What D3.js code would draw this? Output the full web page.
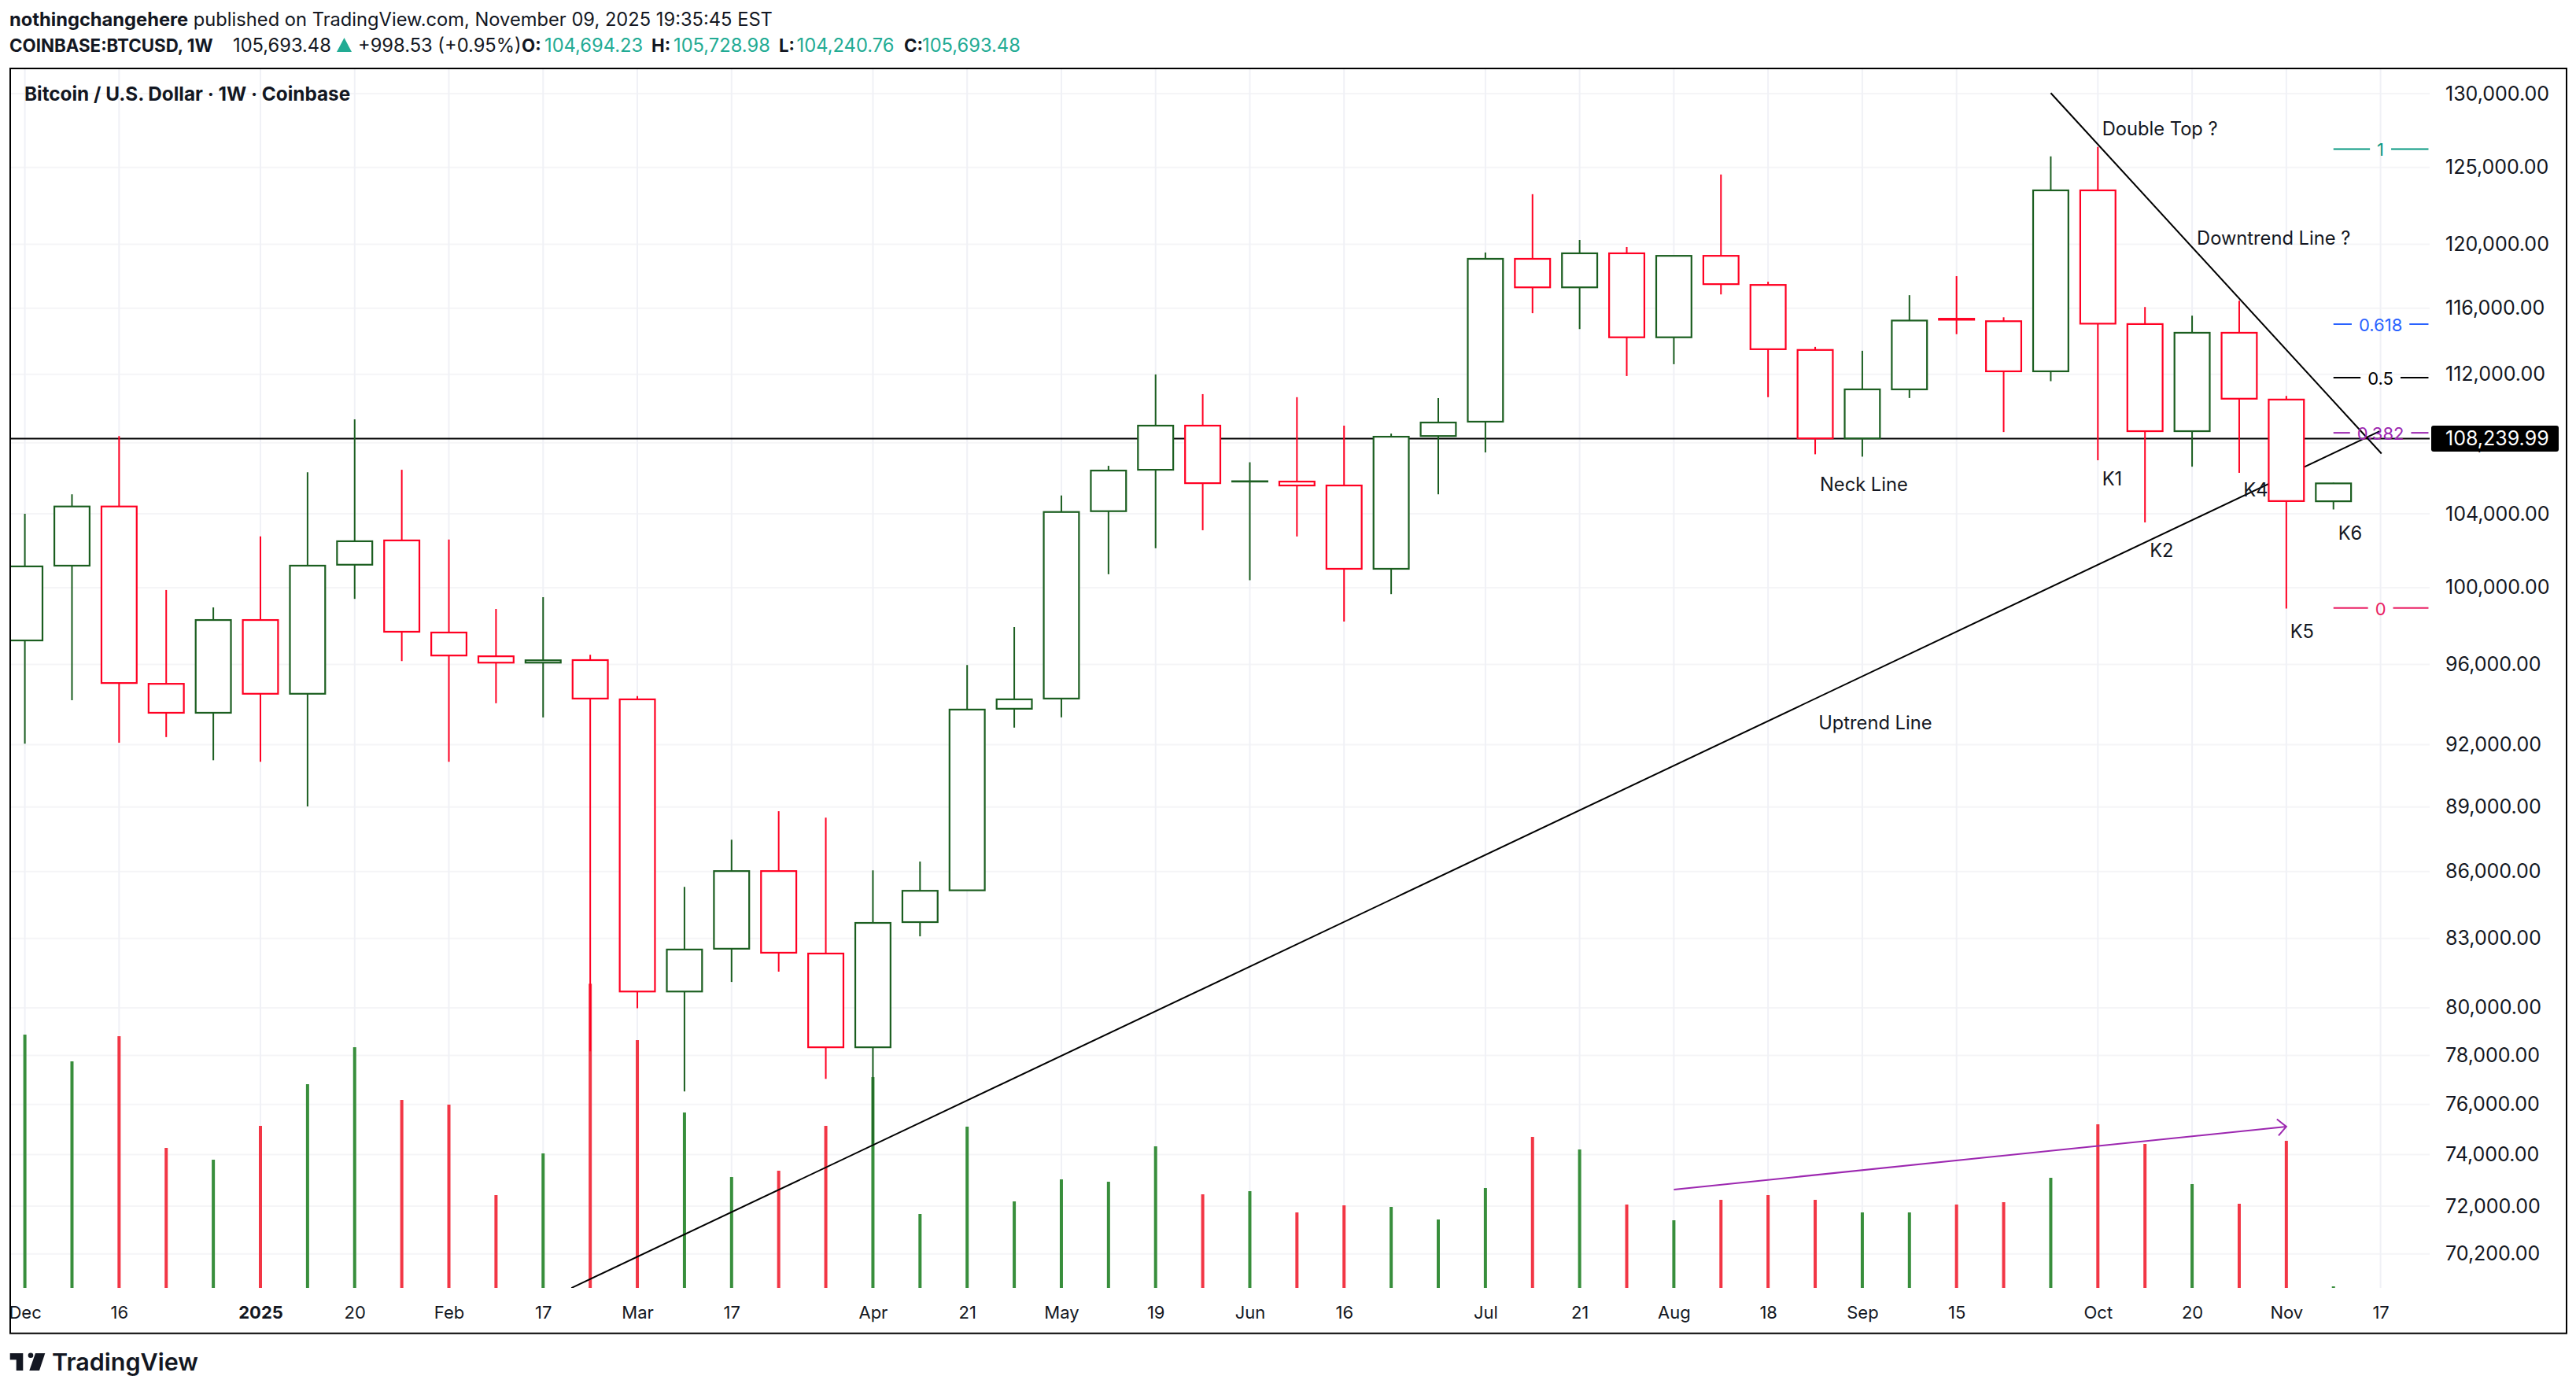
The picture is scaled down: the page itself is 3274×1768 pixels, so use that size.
<!DOCTYPE html>
<html>
<head>
<meta charset="utf-8">
<title>BTCUSD 1W</title>
<script src="https://cdn.jsdelivr.net/npm/d3@7"></script>
<style>
  html, body { margin: 0; padding: 0; background: #fff; }
  svg { display: block; }
  text { font-family: Inter, "Liberation Sans", sans-serif; fill: #131722; }
</style>
</head>
<body>
<svg id="chart" width="3274" height="1768"></svg>
<script>
// weekly candles, first week is 2 Dec 2024
var opens  = [97235,101175,104405,95020,93570,98295,94520,101225,102540,97645,96420,96095,96225,94240,80695,82550,86025,82340,78340,83725,85150,93770,94280,104145,106460,108985,105795,105795,105575,101005,108385,109215,119080,117290,119430,114220,119270,117440,113455,108250,111105,115350,115200,112175,123490,115025,108665,114495,110505,104694.23];
var highs  = [104005,105085,108385,99875,98955,102755,106325,109350,106460,102585,98875,99495,96500,94400,85310,87470,88805,88505,86060,86460,95975,97930,105015,106685,111990,110825,106885,110645,108985,108525,110595,119480,123240,120280,119830,119270,124535,117640,113640,113405,116805,117990,115440,125740,126375,116070,115540,116460,110715,105728.98];
var lows   = [92050,94200,92090,92370,91240,91170,89030,99405,96175,91170,94045,93340,78170,79985,76525,81105,81550,77040,74420,83095,85150,92835,93340,100715,102115,103095,100395,102755,98215,99655,105085,107445,115690,114720,111895,112600,116850,110645,107340,107205,110595,114410,108615,111585,106995,103525,106635,106285,98895,104240.76];
var closes = [101135,104405,95060,93570,98295,94520,101175,102495,97685,96460,96095,96215,94280,80695,82515,86025,82375,78340,83690,85130,93730,94240,104100,106415,108985,105705,105815,105575,101005,108345,109165,119080,117290,119430,114220,119270,117490,113500,108250,111105,115240,115290,112175,123490,115050,108665,114495,110555,104705,105693.48];

var volumes = [966,864,960,534,489,618,777,918,717,699,354,513,1160,945,669,423,447,618,804,282,615,330,414,405,540,357,369,288,315,309,261,381,576,528,318,258,336,354,336,288,288,318,327,420,624,549,396,321,561,6];

var priceTicks = [130000,125000,120000,116000,112000,108000,104000,100000,96000,92000,89000,86000,83000,80000,78000,76000,74000,72000,70200];
var timeTicks  = [0,2,5,7,9,11,13,15,18,20,22,24,26,28,31,33,35,37,39,41,44,46,48,50];
var timeLabels = ["Dec","16","2025","20","Feb","17","Mar","17","Apr","21","May","19","Jun","16","Jul","21","Aug","18","Sep","15","Oct","20","Nov","17"];

var lastPrice = 108239.99;
var fibLevels = ["1","0.618","0.5","0.382","0"];
var fibPrices = [126225,115020,111800,108570,98925];
var fibColors = ["#089981","#2962ff","#000000","#9c27b0","#e91e63"];

var noteTexts  = ["Double Top ?","Downtrend Line ?","K1","K2","K4","K5","K6","Neck Line","Uptrend Line"];
var noteIdx    = [44.09,46.1,44.09,45.1,47.09,48.08,49.1,38.1,38.07];
var notePrices = [127170,120000,105570,101650,104950,97340,102590,105250,92750];

// drawn lines, [from idx, from price, to idx, to price]
var downtrend = [43,130040,50.02,107380];
var uptrend   = [11.6,68940,49.98,108660];
var volArrow  = [35,72640,48,75110];

var svg = d3.select("#chart");
var x = d3.scaleLinear().domain([0,50]).range([31.6,3025.6]);
var y = d3.scaleLog().domain([130000,70200]).range([119,1593.7]);
var v = d3.scaleLinear().domain([0,1000]).range([1637,1303.7]);

var left = 13, right = 3090, top_ = 87, paneBottom = 1637, bottom = 1694.7;
var upCol = "#1b5e20", downCol = "#ff0022";
var volUp = "#388e3c", volDown = "#f23645";

var defs = svg.append("defs");
defs.append("clipPath").attr("id","pane").append("rect")
    .attr("x",left).attr("y",top_).attr("width",right-left).attr("height",paneBottom-top_);
defs.append("clipPath").attr("id","timeclip").append("rect")
    .attr("x",left).attr("y",paneBottom).attr("width",right-left).attr("height",bottom-paneBottom);
defs.append("marker").attr("id","head").attr("markerUnits","userSpaceOnUse")
    .attr("markerWidth",30).attr("markerHeight",30).attr("refX",20).attr("refY",12)
    .attr("orient","auto").attr("viewBox","0 0 30 24")
    .append("path").attr("d","M9,1.5 L20,12 L9,22.5").attr("fill","none")
    .attr("stroke","#9c27b0").attr("stroke-width",2);

// grid
var pane = svg.append("g").attr("clip-path","url(#pane)");
pane.append("g").selectAll("line").data(priceTicks).enter().append("line")
    .attr("x1",left).attr("x2",3088).attr("y1",d => y(d)).attr("y2",d => y(d))
    .attr("stroke","#f5f5f7").attr("stroke-width",2);
pane.append("g").selectAll("line").data(timeTicks).enter().append("line")
    .attr("x1",d => x(d)).attr("x2",d => x(d)).attr("y1",top_).attr("y2",paneBottom)
    .attr("stroke","#f0f1f6").attr("stroke-width",2);

// volume
pane.append("g").selectAll("rect").data(volumes).enter().append("rect")
    .attr("x",(d,i) => x(i)-2).attr("width",4)
    .attr("y",d => v(d)).attr("height",d => v(0)-v(d))
    .attr("fill",(d,i) => closes[i] >= opens[i] ? volUp : volDown);

// drawings sit under the candles
function drawLine(p, col) {
  return pane.append("line")
    .attr("x1",x(p[0])).attr("y1",y(p[1])).attr("x2",x(p[2])).attr("y2",y(p[3]))
    .attr("stroke",col).attr("stroke-width",2);
}
drawLine(uptrend,"#000");
drawLine(downtrend,"#000");
drawLine(volArrow,"#9c27b0").attr("marker-end","url(#head)");
pane.append("line").attr("x1",left).attr("x2",3088)
    .attr("y1",y(lastPrice)).attr("y2",y(lastPrice))
    .attr("stroke","#000").attr("stroke-width",2);

// fib levels, the line breaks around its label
fibLevels.forEach(function (lvl, i) {
  var g = pane.append("g");
  var py = y(fibPrices[i]);
  var t = g.append("text").attr("x",x(50)).attr("y",py).attr("dy","0.4em")
      .attr("text-anchor","middle").attr("font-size",22).style("fill",fibColors[i]).text(lvl);
  var half = t.node().getComputedTextLength()/2 + 9;
  [[x(49),x(50)-half],[x(50)+half,x(51)+1]].forEach(function (s) {
    g.append("line").attr("x1",s[0]).attr("x2",s[1]).attr("y1",py).attr("y2",py)
      .attr("stroke",fibColors[i]).attr("stroke-width",2);
  });
});

// candles
var candles = pane.append("g").selectAll("g").data(opens).enter().append("g")
    .attr("stroke",(d,i) => closes[i] >= opens[i] ? upCol : downCol);
candles.append("line")
    .attr("x1",(d,i) => x(i)).attr("x2",(d,i) => x(i))
    .attr("y1",(d,i) => y(highs[i])).attr("y2",(d,i) => y(lows[i]))
    .attr("stroke-width",2);
candles.append("rect")
    .attr("x",(d,i) => x(i)-22.4).attr("width",44.8)
    .attr("y",(d,i) => y(Math.max(opens[i],closes[i])))
    .attr("height",(d,i) => Math.abs(y(opens[i])-y(closes[i])))
    .attr("fill","#fff").attr("stroke-width",2.2);

// text notes
pane.append("g").selectAll("text").data(noteTexts).enter().append("text")
    .attr("x",(d,i) => x(noteIdx[i])).attr("y",(d,i) => y(notePrices[i]))
    .attr("font-size",23.7).text(d => d);

// price axis
var yAxis = d3.axisRight(y).tickValues(priceTicks).tickFormat(d3.format(",.2f")).tickSize(0).tickPadding(18);
var yg = svg.append("g").attr("transform","translate("+right+",0)").call(yAxis);
yg.select(".domain").remove();
yg.selectAll("text").attr("font-size",25).attr("font-family",null).style("fill","#131722");

var tag = svg.append("g");
tag.append("rect").attr("x",right).attr("y",y(lastPrice)-16.5).attr("width",162).attr("height",33).attr("rx",3).attr("fill","#000");
tag.append("text").attr("x",right+18).attr("y",y(lastPrice)).attr("dy","0.36em").attr("font-size",25).style("fill","#fff")
   .text(d3.format(",.2f")(lastPrice));

// time axis
var xAxis = d3.axisBottom(x).tickValues(timeTicks).tickFormat((d,i) => timeLabels[i]).tickSize(0).tickPadding(23);
var xg = svg.append("g").attr("clip-path","url(#timeclip)")
    .append("g").attr("transform","translate(0,"+paneBottom+")").call(xAxis);
xg.select(".domain").remove();
xg.selectAll("text").attr("font-size",22).attr("font-family",null).style("fill","#131722")
  .attr("font-weight",(d,i) => timeLabels[i] == "2025" ? 700 : 400);

// frame
svg.append("rect").attr("x",left).attr("y",top_).attr("width",3262-left).attr("height",bottom-top_)
   .attr("fill","none").attr("stroke","#000").attr("stroke-width",2);

// header
svg.append("text").attr("x",12).attr("y",32.5).attr("font-size",23.7)
   .html('<tspan font-weight="700">nothingchangehere</tspan> published on TradingView.com, November 09, 2025 19:35:45 EST');

var teal = "#22ab94";
var headParts = [
  ["COINBASE:BTCUSD, 1W",12,700,null],
  ["105,693.48",296,400,null],
  ["+998.53 (+0.95%)",455,400,null],
  ["O:",663,700,null],["104,694.23",692,400,teal],
  ["H:",828,700,null],["105,728.98",856,400,teal],
  ["L:",990,700,null],["104,240.76",1012.6,400,teal],
  ["C:",1149,700,null],["105,693.48",1172,400,teal]
];
headParts.forEach(function (p) {
  var t = svg.append("text").attr("x",p[1]).attr("y",66).attr("font-weight",p[2]).text(p[0])
      .attr("font-size",p[2] == 700 ? 22.3 : 23.7);
  if (p[3]) t.style("fill",p[3]);
});
svg.append("path").attr("d","M437.5,48 L447,66 L428,66 Z").attr("fill",teal);

svg.append("text").attr("x",31).attr("y",128).attr("font-size",24.3).attr("font-weight",700)
   .text("Bitcoin / U.S. Dollar · 1W · Coinbase");

// logo
var logo = svg.append("g").attr("fill","#131722");
logo.append("path").attr("d","M12.7,1720 H29.3 V1742 H20.7 V1728.3 H12.7 Z");
logo.append("circle").attr("cx",39).attr("cy",1722.7).attr("r",3.3);
logo.append("path").attr("d","M45,1720 H57.3 L50,1742 H37.3 Z");
svg.append("text").attr("x",66).attr("y",1741.5).attr("font-size",30.5).attr("font-weight",600).text("TradingView");
</script>
</body>
</html>
